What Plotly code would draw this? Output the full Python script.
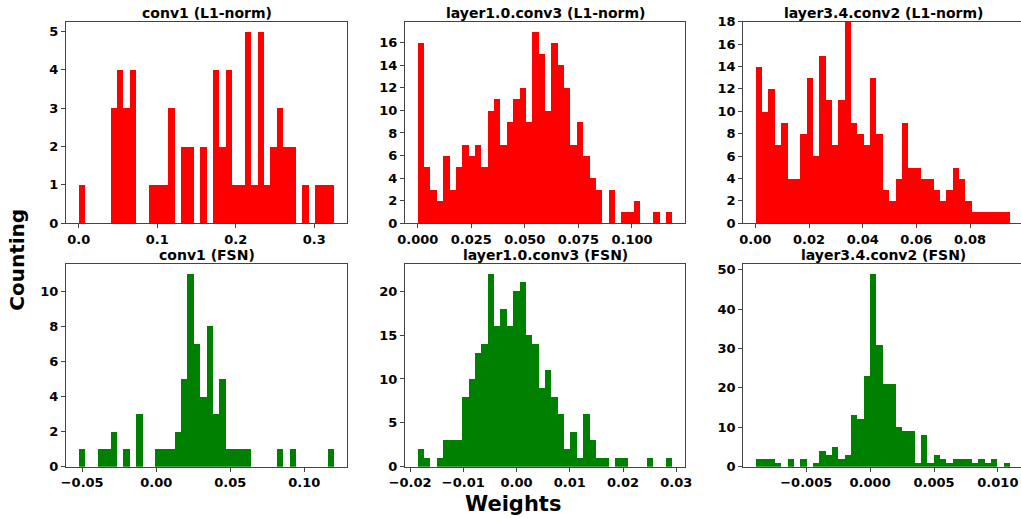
import numpy as np
import plotly.graph_objects as go

# ---------------- data ----------------
titles = ["conv1 (L1-norm)", "layer1.0.conv3 (L1-norm)", "layer3.4.conv2 (L1-norm)",
          "conv1 (FSN)", "layer1.0.conv3 (FSN)", "layer3.4.conv2 (FSN)"]

# histogram value ranges [min, max] (40 equal bins each)
conv1_l1_range = [0.0, 0.3255]
layer1_l1_range = [0.0, 0.1188]
layer3_l1_range = [0.00025, 0.0950]
conv1_fsn_range = [-0.0523, 0.1203]
layer1_fsn_range = [-0.01857, 0.02925]
layer3_fsn_range = [-0.00893, 0.01097]

conv1_l1_counts = [1, 0, 0, 0, 0, 3, 4, 3, 4, 0, 0, 1, 1, 1, 3, 0, 2, 2, 0, 2,
                   0, 4, 2, 4, 1, 1, 5, 1, 5, 1, 2, 3, 2, 2, 0, 1, 0, 1, 1, 1]
layer1_l1_counts = [16, 5, 3, 2, 6, 3, 5, 7, 6, 7, 5, 10, 11, 7, 9, 11, 12, 9, 17, 15,
                    10, 16, 14, 12, 7, 9, 6, 4, 3, 0, 3, 0, 1, 1, 2, 0, 0, 1, 0, 1]
layer3_l1_counts = [14, 10, 12, 7, 9, 4, 4, 8, 13, 6, 15, 11, 7, 11, 18, 9, 8, 7, 13, 8,
                    3, 2, 4, 9, 5, 5, 4, 4, 3, 2, 3, 5, 4, 2, 1, 1, 1, 1, 1, 1]
conv1_fsn_counts = [1, 0, 0, 1, 1, 2, 0, 1, 0, 3, 0, 0, 1, 1, 1, 2, 5, 11, 7, 4,
                    8, 3, 5, 1, 1, 1, 1, 0, 0, 0, 0, 1, 0, 1, 0, 0, 0, 0, 0, 1]
layer1_fsn_counts = [2, 1, 0, 1, 3, 3, 3, 8, 10, 13, 14, 22, 16, 18, 16, 20, 21, 15, 14, 9,
                     11, 8, 6, 2, 4, 1, 6, 3, 1, 1, 0, 1, 1, 0, 0, 0, 1, 0, 0, 1]
layer3_fsn_counts = [2, 2, 2, 1, 0, 2, 0, 2, 0, 1, 4, 3, 5, 2, 3, 13, 12, 23, 49, 31,
                     21, 21, 10, 9, 9, 1, 8, 1, 3, 2, 1, 2, 2, 2, 1, 2, 1, 2, 0, 1]

x_tick_vals = [[0.0, 0.1, 0.2, 0.3],
               [0.0, 0.025, 0.05, 0.075, 0.1],
               [0.0, 0.02, 0.04, 0.06, 0.08],
               [-0.05, 0.0, 0.05, 0.1],
               [-0.02, -0.01, 0.0, 0.01, 0.02, 0.03],
               [-0.005, 0.0, 0.005, 0.01]]
x_tick_decimals = [1, 3, 2, 2, 2, 3]
y_tick_step = [1, 2, 2, 2, 5, 10]

ranges = [conv1_l1_range, layer1_l1_range, layer3_l1_range,
          conv1_fsn_range, layer1_fsn_range, layer3_fsn_range]
counts = [conv1_l1_counts, layer1_l1_counts, layer3_l1_counts,
          conv1_fsn_counts, layer1_fsn_counts, layer3_fsn_counts]
colors = ["#ff0000"] * 3 + ["#008000"] * 3

# ---------------- layout geometry (pixels) ----------------
W, H = 1021, 518
col_px = [(66, 347), (405, 685), (743.3, 1023)]
row_px = [(21.7, 223.3), (264, 466.7)]
y_tops = [5.25, 17.85, 18, 11.55, 23.1, 51.45]

FONT = "DejaVu Sans"
LINE = "#444444"

fig = go.Figure()
layout = dict(width=W, height=H, margin=dict(l=0, r=0, t=0, b=0, pad=0, autoexpand=False),
              paper_bgcolor="white", plot_bgcolor="white", showlegend=False,
              bargap=0, font=dict(family=FONT, color="black", weight="bold"))
annotations = []

for i in range(6):
    r, c = divmod(i, 3)
    n = len(counts[i])
    edges = np.linspace(ranges[i][0], ranges[i][1], n + 1)
    centers = (edges[:-1] + edges[1:]) / 2
    bw = edges[1] - edges[0]
    sfx = "" if i == 0 else str(i + 1)
    fig.add_trace(go.Bar(x=centers, y=counts[i], width=bw,
                         marker=dict(color=colors[i], line=dict(width=0)),
                         xaxis="x" + sfx, yaxis="y" + sfx, hoverinfo="x+y"))

    x0p, x1p = col_px[c]
    x1clip = min(x1p, W)
    lo, hi = ranges[i]
    span = hi - lo
    lo_m, hi_m = lo - 0.05 * span, hi + 0.05 * span
    hi_vis = lo_m + (hi_m - lo_m) * (x1clip - x0p) / (x1p - x0p)

    ytop_px, ybot_px = row_px[r]
    dec = x_tick_decimals[i]
    ticktext = [f"{v:.{dec}f}".replace("-", "\u2212") for v in x_tick_vals[i]]

    tickfont = dict(family=FONT, size=13, color="black", weight="bold")
    layout["xaxis" + sfx] = dict(
        domain=[x0p / W, x1clip / W], range=[lo_m, hi_vis], anchor="y" + sfx,
        automargin=False,
        showgrid=False, zeroline=False, showline=True, linecolor=LINE, linewidth=1.3,
        mirror=True, ticks="outside", ticklen=4, tickwidth=1.2, tickcolor=LINE,
        tickvals=x_tick_vals[i], ticktext=ticktext, tickangle=0, tickfont=tickfont)
    layout["yaxis" + sfx] = dict(
        domain=[1 - ybot_px / H, 1 - ytop_px / H], range=[0, y_tops[i]], anchor="x" + sfx,
        automargin=False,
        showgrid=False, zeroline=False, showline=True, linecolor=LINE, linewidth=1.3,
        mirror=(c != 2), ticks="outside", ticklen=4, tickwidth=1.2, tickcolor=LINE,
        tick0=0, dtick=y_tick_step[i], tickfont=tickfont)

    annotations.append(dict(text=titles[i], xref="paper", yref="paper",
                            x=(x0p + x1p) / 2 / W, y=1 - ytop_px / H,
                            xanchor="center", yanchor="bottom", showarrow=False, yshift=-1,
                            font=dict(family=FONT, size=14, color="black", weight="bold")))

annotations.append(dict(text="Counting", xref="paper", yref="paper", x=16.7 / W, y=1 - 260 / H,
                        xanchor="center", yanchor="middle", showarrow=False, textangle=-90,
                        font=dict(family=FONT, size=20, color="black", weight="bold")))
annotations.append(dict(text="Weights", xref="paper", yref="paper", x=512.5 / W, y=0,
                        xanchor="center", yanchor="bottom", showarrow=False, yshift=0,
                        font=dict(family=FONT, size=21, color="black", weight="bold")))
layout["annotations"] = annotations

fig.update_layout(**layout)
fig.write_html("out.html", config={"displayModeBar": False},
               post_script="document.body.style.margin='0px';document.body.style.padding='0px';")
